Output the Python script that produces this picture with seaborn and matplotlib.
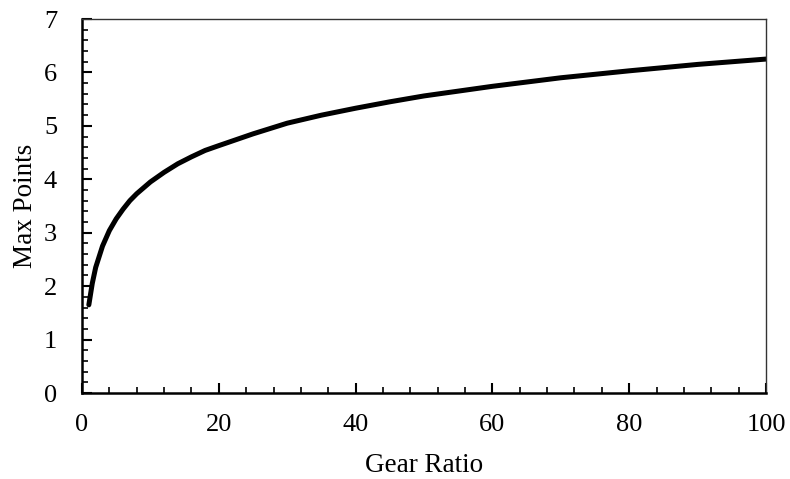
import matplotlib
matplotlib.use("Agg")
import matplotlib.pyplot as plt
import seaborn as sns
import pandas as pd
from matplotlib.ticker import MultipleLocator

gear_ratio = [1, 1.5, 2, 3, 4, 5, 6, 7, 8, 10, 12, 14, 16, 18, 20, 25, 30, 35, 40, 45,
              50, 60, 70, 80, 90, 100]
max_points = [1.65, 2.05, 2.35, 2.75, 3.04, 3.26, 3.44, 3.60, 3.73, 3.95, 4.13, 4.29,
              4.42, 4.54, 4.63, 4.85, 5.05, 5.20, 5.33, 5.45, 5.56, 5.74, 5.90, 6.03,
              6.15, 6.25]

df = pd.DataFrame({"Gear Ratio": gear_ratio, "Max Points": max_points})

sns.set_theme(style="white")
plt.rcParams["font.family"] = ["Liberation Serif", "DejaVu Serif"]

fig = plt.figure(figsize=(7.9, 4.79), dpi=100)
ax = fig.add_axes([82 / 790, 1 - 393 / 479, (766 - 82) / 790, (393 - 19) / 479])

sns.lineplot(data=df, x="Gear Ratio", y="Max Points", ax=ax, color="black", linewidth=3.6)

ax.set_xlim(0, 100)
ax.set_ylim(0, 7)
ax.xaxis.set_major_locator(MultipleLocator(20))
ax.xaxis.set_minor_locator(MultipleLocator(4))
ax.yaxis.set_major_locator(MultipleLocator(1))
ax.yaxis.set_minor_locator(MultipleLocator(0.2))
ax.tick_params(which="both", direction="in", top=False, right=False, bottom=True, left=True,
               color="black", labelsize=19, labelcolor="black")
ax.tick_params(which="major", length=7, width=1.5)
ax.tick_params(which="minor", length=4, width=1.2)
ax.tick_params(axis="x", which="major", pad=15)
ax.tick_params(axis="y", which="major", pad=18)

for s in ["left", "bottom"]:
    ax.spines[s].set_color("black")
    ax.spines[s].set_linewidth(1.8)
for s in ["top", "right"]:
    ax.spines[s].set_color("#333333")
    ax.spines[s].set_linewidth(1.0)

ax.set_xlabel("Gear Ratio", fontsize=19.5, color="black", labelpad=12)
ax.set_ylabel("Max Points", fontsize=19.5, color="black", labelpad=4)

fig.savefig("out.png", dpi=100, facecolor="white")
